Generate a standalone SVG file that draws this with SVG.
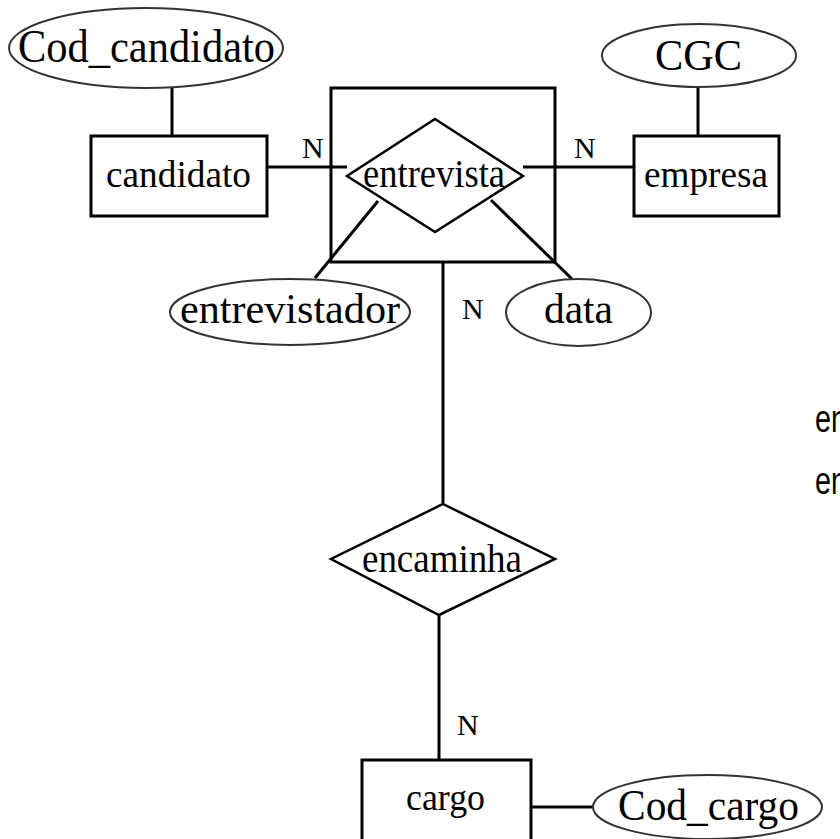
<svg xmlns="http://www.w3.org/2000/svg" width="840" height="839" viewBox="0 0 840 839">
<style>
.ent{fill:#fff;stroke:#000;stroke-width:3}
.rel{fill:#fff;stroke:#000;stroke-width:2.5}
.att{fill:#fff;stroke:#333;stroke-width:2}
.ln{stroke:#000;stroke-width:3;fill:none}
.t{font-family:"Liberation Serif","Times New Roman",serif;fill:#000}
.s{font-family:"Liberation Sans",Arial,sans-serif;fill:#000}
</style>
<rect width="840" height="839" fill="#fff"/>
<g id="connectors">
<line class="ln" x1="172" y1="88" x2="172" y2="136"/>
<line class="ln" x1="698" y1="87" x2="698" y2="136"/>
<line class="ln" x1="267" y1="167" x2="347" y2="167"/>
<line class="ln" x1="523" y1="167" x2="634" y2="167"/>
<line class="ln" x1="378" y1="201" x2="315" y2="278"/>
<line class="ln" x1="491" y1="200" x2="572" y2="279"/>
<line class="ln" x1="443" y1="262" x2="443" y2="504"/>
<line class="ln" x1="439" y1="615" x2="439" y2="760"/>
<line class="ln" x1="531" y1="807" x2="593" y2="807"/>
</g>
<g id="aggregation">
<rect x="331" y="88" width="224" height="174" fill="none" stroke="#000" stroke-width="3"/>
</g>
<g id="entrevista">
<polygon class="rel" points="435,119 523,176 435,232 347,176" style="fill:none"/>
<text class="t" x="363" y="187" font-size="39" textLength="142" lengthAdjust="spacingAndGlyphs">entrevista</text>
</g>
<g id="cod_candidato">
<ellipse class="att" cx="146" cy="48" rx="137" ry="40"/>
<text class="t" x="18" y="62" font-size="47" textLength="257" lengthAdjust="spacingAndGlyphs">Cod_candidato</text>
</g>
<g id="candidato">
<rect class="ent" x="91" y="136" width="176" height="80"/>
<text class="t" x="106" y="187" font-size="38" textLength="145" lengthAdjust="spacingAndGlyphs">candidato</text>
</g>
<g id="cgc">
<ellipse class="att" cx="699" cy="55.5" rx="97" ry="31.5"/>
<text class="t" x="655" y="70" font-size="45" textLength="87" lengthAdjust="spacingAndGlyphs">CGC</text>
</g>
<g id="empresa">
<rect class="ent" x="634" y="136" width="145" height="80"/>
<text class="t" x="644" y="187" font-size="38" textLength="124" lengthAdjust="spacingAndGlyphs">empresa</text>
</g>
<g id="entrevistador">
<ellipse class="att" cx="290" cy="312" rx="120" ry="33"/>
<text class="t" x="180" y="323" font-size="43" textLength="220" lengthAdjust="spacingAndGlyphs">entrevistador</text>
</g>
<g id="data">
<ellipse class="att" cx="578.5" cy="312.5" rx="72.5" ry="33.5"/>
<text class="t" x="544" y="323" font-size="43" textLength="69" lengthAdjust="spacingAndGlyphs">data</text>
</g>
<g id="encaminha">
<polygon class="rel" points="443,504 555,559 439,615 331,559"/>
<text class="t" x="362" y="572" font-size="39" textLength="160" lengthAdjust="spacingAndGlyphs">encaminha</text>
</g>
<g id="cargo">
<rect class="ent" x="362" y="760" width="169" height="84"/>
<text class="t" x="406" y="810" font-size="38" textLength="79" lengthAdjust="spacingAndGlyphs">cargo</text>
</g>
<g id="cod_cargo">
<ellipse class="att" cx="707.5" cy="807" rx="114.5" ry="32"/>
<text class="t" x="618" y="820" font-size="44" textLength="181" lengthAdjust="spacingAndGlyphs">Cod_cargo</text>
</g>
<g id="labels">
<text class="t" x="302" y="158" font-size="30">N</text>
<text class="t" x="574" y="158" font-size="30">N</text>
<text class="t" x="462" y="319" font-size="30">N</text>
<text class="t" x="457" y="735" font-size="30">N</text>
<text class="s" x="815" y="432" font-size="38" textLength="32" lengthAdjust="spacingAndGlyphs">en</text>
<text class="s" x="815" y="494" font-size="38" textLength="32" lengthAdjust="spacingAndGlyphs">en</text>
</g>
</svg>
